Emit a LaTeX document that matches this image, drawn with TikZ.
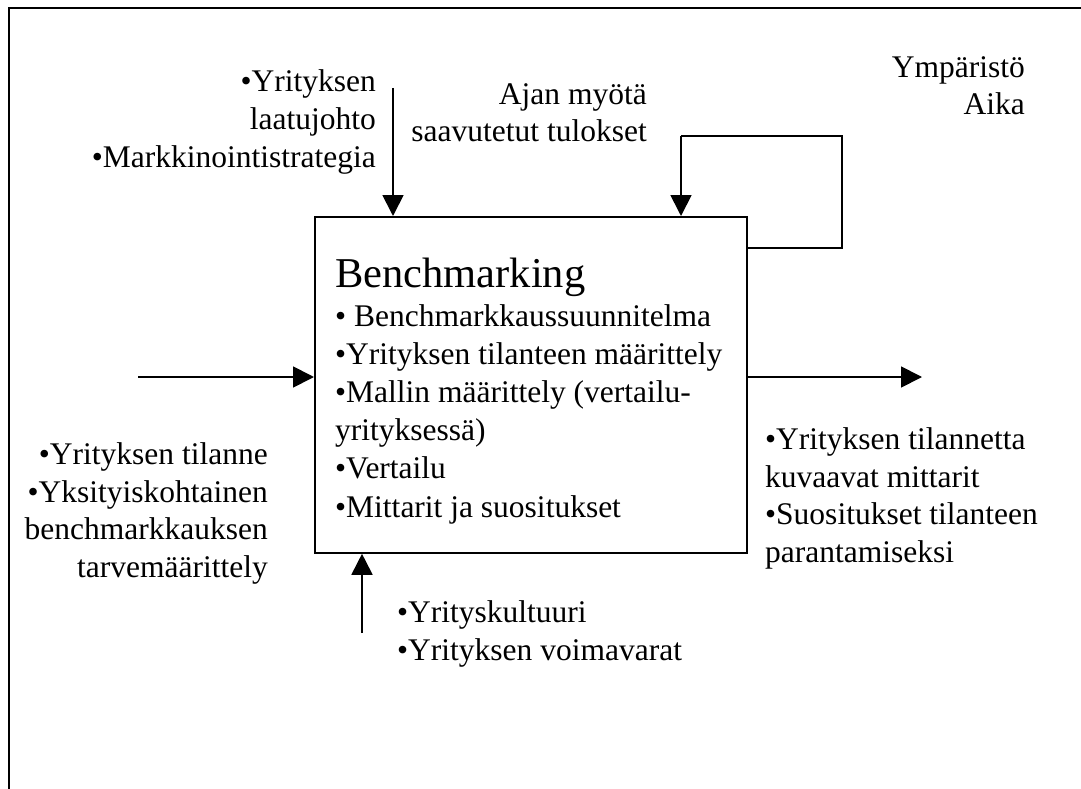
\documentclass[tikz,border=0pt]{standalone}
\usepackage{fontspec}
\setmainfont{Liberation Serif}
\usetikzlibrary{arrows.meta}
\begin{document}
\begin{tikzpicture}[x=1pt,y=-1pt,
  line/.style={line width=1.8pt},
  arr/.style={line, -{Triangle[length=21pt,width=21pt]}},
  txt/.style={inner sep=0pt, font=\fontsize{31.5}{37.5}\selectfont},
  boxtxt/.style={inner sep=0pt, font=\fontsize{31.5}{38.2}\selectfont, align=left, anchor=base west},
]
\useasboundingbox (0,0) rectangle (1081,789);
% outer frame (open at right and bottom)
\draw[line] (9,792) -- (9,8) -- (1085,8);

% process box; multi-line labels are placed by the baseline of their last line
\node[draw, line, minimum width=432pt, minimum height=336pt, anchor=north west, inner sep=0pt] (box) at (314,216) {};
\node[boxtxt] (title) at (335,287) {\fontsize{42.5}{42.5}\selectfont Benchmarking};
\node[boxtxt] (steps) at (335,517) {• Benchmarkkaussuunnitelma\\
•Yrityksen tilanteen määrittely\\
•Mallin määrittely (vertailu-\\
yrityksessä)\\
•Vertailu\\
•Mittarit ja suositukset};

% labels
\node[txt, align=right, anchor=base east] (ctrl) at (376,167) {•Yrityksen\\laatujohto\\•Markkinointistrategia};
\node[txt, align=right, anchor=base east] (fbl) at (647,142) {Ajan myötä\\saavutetut tulokset};
\node[txt, align=right, anchor=base east] (env) at (1025,115) {Ympäristö\\Aika};
\node[txt, align=right, anchor=base east] (inp) at (268,577) {•Yrityksen tilanne\\•Yksityiskohtainen\\benchmarkkauksen\\tarvemäärittely};
\node[txt, align=left, anchor=base west] (outp) at (765,562) {•Yrityksen tilannetta\\kuvaavat mittarit\\•Suositukset tilanteen\\parantamiseksi};
\node[txt, align=left, anchor=base west] (mech) at (397,660) {•Yrityskultuuri\\•Yrityksen voimavarat};

% connectors
\coordinate (ctop) at (393,88);
\coordinate (fb0) at (746,248);
\coordinate (fb1) at (842,248);
\coordinate (fb2) at (842,136);
\coordinate (fb3) at (681,136);
\coordinate (ins) at (138,377);
\coordinate (oute) at (922,377);
\coordinate (mbot) at (362,633);

\draw[arr] (ctop) -- (ctop |- box.north);
\draw[line] (box.east |- fb0) -- (fb1) -- (fb2) -- (fb3);
\draw[arr] (fb3) -- (fb3 |- box.north);
\draw[arr] (ins) -- (ins -| box.west);
\draw[arr] (oute -| box.east) -- (oute);
\draw[arr] (mbot) -- (mbot |- box.south);
\end{tikzpicture}
\end{document}
